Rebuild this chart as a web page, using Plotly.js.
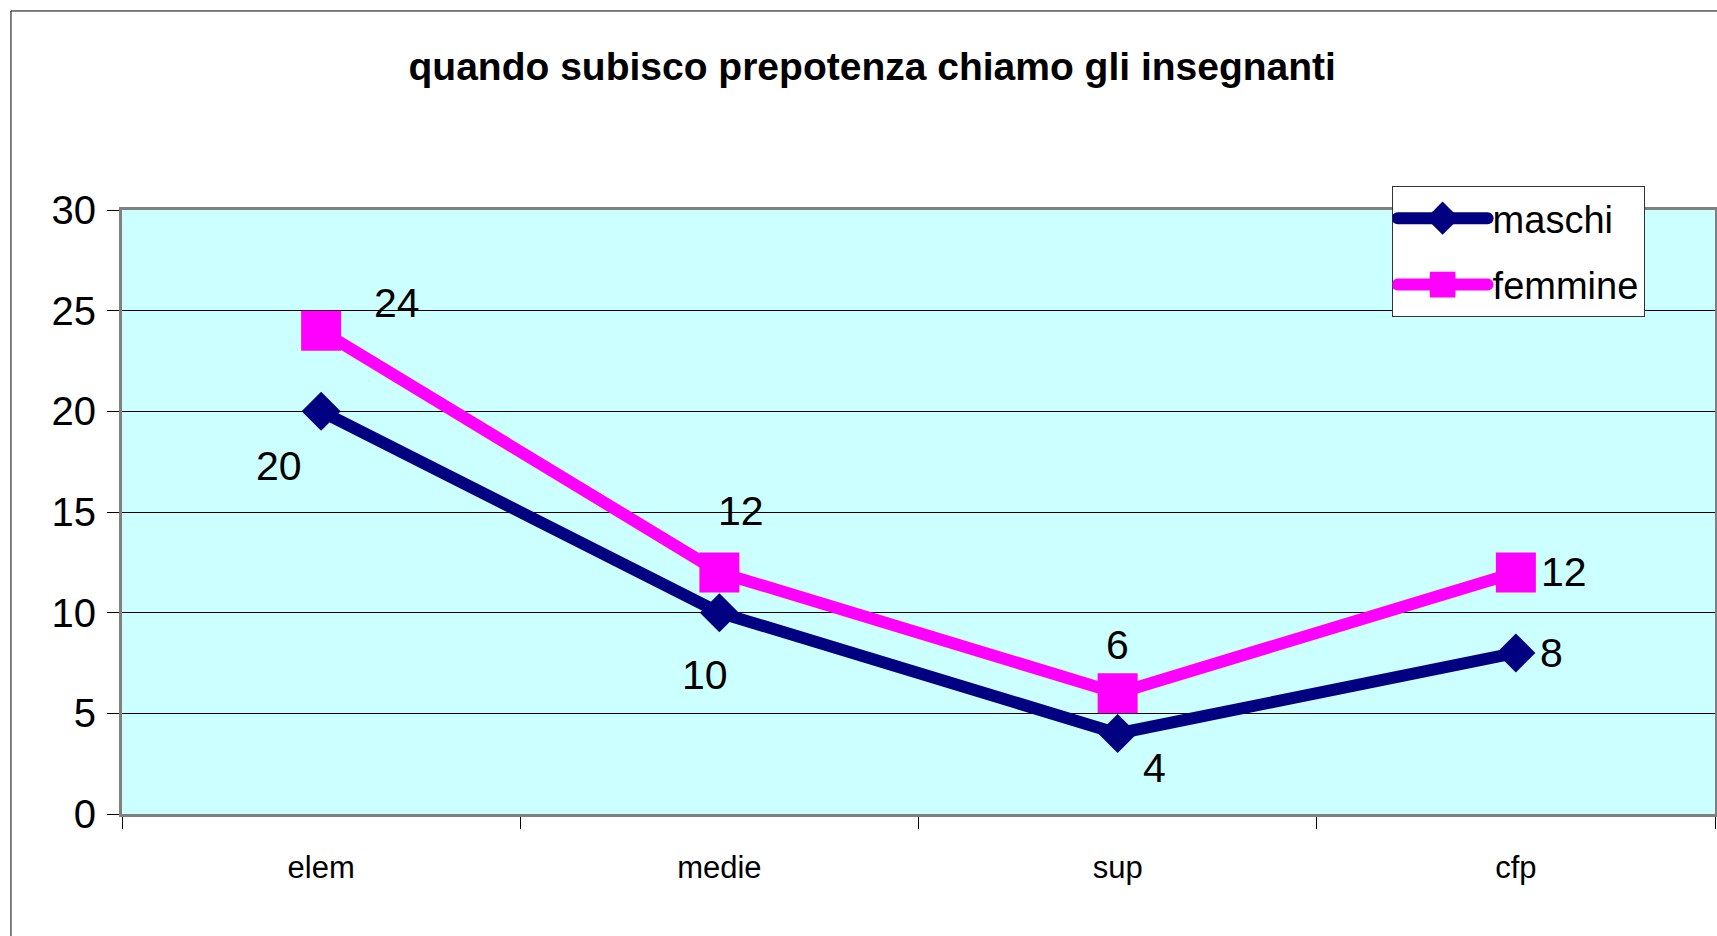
<!DOCTYPE html>
<html>
<head>
<meta charset="utf-8">
<script src="https://cdn.plot.ly/plotly-3.0.1.min.js"></script>
<style>
html,body{margin:0;padding:0;background:#fff;}
#chart{width:1717px;height:936px;}
</style>
</head>
<body>
<div id="chart"></div>
<script>
// ---- data ----
var categories = ["elem", "medie", "sup", "cfp"];
var maschi = [20, 10, 4, 8];
var femmine = [24, 12, 6, 12];
var yTicks = [0, 5, 10, 15, 20, 25, 30];
var titleText = "quando subisco prepotenza chiamo gli insegnanti";

// label offsets in pixels (dx, dy up positive)
var maschiLabelShift = [[-42, -55], [-14, -62], [37, -35], [36, 0]];
var femmineLabelShift = [[76, 28], [22, 61], [0, 48], [48, 0]];

var FONT = "'Liberation Sans', Arial, sans-serif";

var traces = [
  {
    x: categories, y: maschi, name: "maschi", type: "scatter", mode: "lines+markers",
    legendgroup: "m",
    line: {color: "#000080", width: 12},
    marker: {symbol: "diamond", size: 30, color: "#000080", line: {width: 0}},
    hoverinfo: "x+y"
  },
  {
    x: categories, y: femmine, name: "femmine", type: "scatter", mode: "lines+markers",
    legendgroup: "f",
    line: {color: "#FF00FF", width: 12},
    marker: {symbol: "square", size: 40, color: "#FF00FF", line: {width: 0}},
    hoverinfo: "x+y"
  }
];

var annotations = [];
function addLabels(vals, shifts) {
  vals.forEach(function (v, i) {
    annotations.push({
      x: categories[i], y: v, xref: "x", yref: "y", text: String(v),
      showarrow: false, xshift: shifts[i][0], yshift: shifts[i][1],
      font: {family: FONT, size: 41, color: "#000"}
    });
  });
}
addLabels(maschi, maschiLabelShift);
addLabels(femmine, femmineLabelShift);

var layout = {
  width: 1717, height: 936,
  margin: {l: 122, r: 2, t: 210, b: 122},
  paper_bgcolor: "#ffffff",
  plot_bgcolor: "#CCFFFF",
  showlegend: true,
  title: {
    text: "<b>" + titleText + "</b>",
    font: {family: FONT, size: 39, color: "#000"},
    x: 0.508, xref: "container", xanchor: "center",
    y: 0.929, yref: "container", yanchor: "middle"
  },
  xaxis: {
    type: "category",
    range: [-0.5, 3.5],
    tickson: "boundaries",
    ticks: "outside", ticklen: 12, tickcolor: "#000", tickwidth: 1,
    showgrid: false,
    showline: true, linecolor: "#808080", linewidth: 3, mirror: true,
    tickfont: {family: FONT, size: 31, color: "#000"},
    ticklabelstandoff: 24,
    zeroline: false, fixedrange: true
  },
  yaxis: {
    range: [0, 30],
    tickvals: yTicks,
    ticktext: yTicks.map(String),
    ticks: "outside", ticklen: 12, tickcolor: "#000", tickwidth: 1,
    showgrid: true, gridcolor: "#000000", gridwidth: 1,
    showline: true, linecolor: "#808080", linewidth: 3, mirror: true,
    tickfont: {family: FONT, size: 40, color: "#000"},
    ticklabelstandoff: 3,
    zeroline: false, fixedrange: true
  },
  legend: {
    x: 0.797, y: 1.0397, xanchor: "left", yanchor: "top",
    bgcolor: "#ffffff", bordercolor: "#333333", borderwidth: 1,
    font: {family: FONT, size: 38, color: "#000"},
    itemwidth: 90,
    tracegroupgap: 14
  },
  annotations: annotations,
  shapes: [{
    type: "rect", xref: "paper", yref: "paper",
    x0: -0.0697, x1: 1.2, y0: -0.6, y1: 1.3295,
    line: {color: "#000", width: 1}, fillcolor: "rgba(0,0,0,0)", layer: "above"
  }]
};

Plotly.newPlot("chart", traces, layout, {displayModeBar: false, staticPlot: true}).then(function () {
  // enlarge legend symbols (Plotly caps their size)
  document.querySelectorAll(".legend .legendpoints path.scatterpts").forEach(function (p) {
    var t = p.getAttribute("transform") || "";
    p.setAttribute("transform", t + " scale(1.6)");
  });
  document.querySelectorAll(".legend .legendlines path").forEach(function (p) {
    p.style.strokeWidth = "12px";
    p.style.strokeLinecap = "round";
  });
});
</script>
</body>
</html>
